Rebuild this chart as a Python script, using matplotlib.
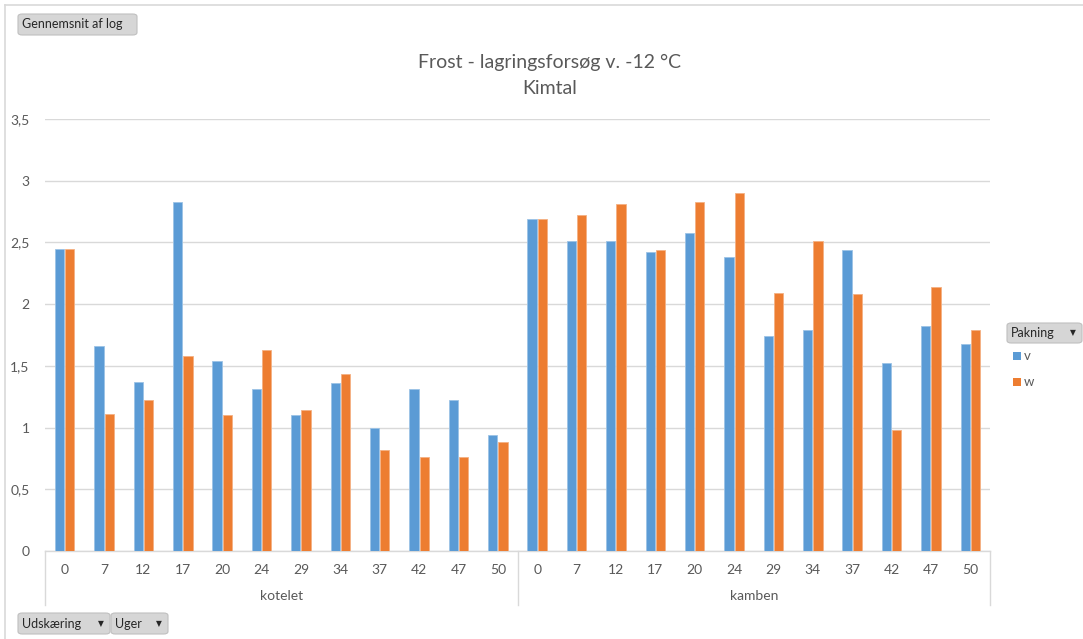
import matplotlib
matplotlib.use("Agg")
import matplotlib.pyplot as plt
from matplotlib.patches import FancyBboxPatch, Rectangle
from matplotlib.lines import Line2D
import matplotlib.transforms as mtransforms
import numpy as np

plt.rcParams['font.family'] = ['Lato', 'DejaVu Sans']

# ---- data ----
groups = ["kotelet", "kamben"]
weeks = ["0", "7", "12", "17", "20", "24", "29", "34", "37", "42", "47", "50"]
series_names = ["v", "w"]
kotelet_v = [2.45, 1.66, 1.37, 2.83, 1.54, 1.31, 1.10, 1.36, 1.00, 1.31, 1.22, 0.94]
kotelet_w = [2.45, 1.11, 1.22, 1.58, 1.10, 1.63, 1.14, 1.43, 0.82, 0.76, 0.76, 0.88]
kamben_v = [2.69, 2.51, 2.51, 2.42, 2.58, 2.38, 1.74, 1.79, 2.44, 1.52, 1.82, 1.68]
kamben_w = [2.69, 2.72, 2.81, 2.44, 2.83, 2.90, 2.09, 2.51, 2.08, 0.98, 2.14, 1.79]
yticks = [0, 0.5, 1, 1.5, 2, 2.5, 3, 3.5]
title_line1 = "Frost - lagringsforsøg v. -12 °C"
title_line2 = "Kimtal"
button_top = "Gennemsnit af log"
button_bottom = ["Udskæring", "Uger"]
legend_title = "Pakning"

colors = ["#5B9BD5", "#ED7D31"]
txt = "#595959"
grid = "#D9D9D9"

W, H = 1083, 639
fig = plt.figure(figsize=(W / 100, H / 100), dpi=100)

def fx(px):
    return px / W

def fy(py):
    return 1 - py / H

left, right, top, bottom = 45, 990, 119, 551
ax = fig.add_axes([fx(left), fy(bottom), (right - left) / W, (bottom - top) / H])

v_all = kotelet_v + kamben_v
w_all = kotelet_w + kamben_w
labels = weeks + weeks
x = np.arange(len(labels))
bw = 0.235
off = 0.13
ax.bar(x - off, v_all, width=bw, color=colors[0], edgecolor="#9CC3E6", linewidth=0.6, zorder=3)
ax.bar(x + off, w_all, width=bw, color=colors[1], edgecolor="#F4B183", linewidth=0.6, zorder=3)

ax.set_xlim(-0.5, len(labels) - 0.5)
ax.set_ylim(0, 3.5)
ax.set_yticks(yticks)
ax.set_yticklabels([("%g" % t).replace(".", ",") for t in yticks])
ax.yaxis.grid(True, color=grid, linewidth=1.0, zorder=0)
ax.set_axisbelow(True)
for s in ["top", "right", "left"]:
    ax.spines[s].set_visible(False)
ax.spines["bottom"].set_color(grid)
ax.spines["bottom"].set_linewidth(1.0)
ax.tick_params(axis="y", length=0, pad=11, labelsize=10, labelcolor=txt)
ax.set_xticks(x)
ax.set_xticklabels(labels)
ax.tick_params(axis="x", length=0, pad=9, labelsize=10, labelcolor=txt)

# multi-level category separators and group labels
trans = mtransforms.blended_transform_factory(ax.transData, ax.transAxes)
sep_depth = -(605 - 551) / (bottom - top)
for xs in [-0.5, 11.5, 23.5]:
    ax.add_line(Line2D([xs, xs], [0, sep_depth], transform=trans, color=grid,
                       linewidth=1.0, clip_on=False))
grp_y = -(596 - 551) / (bottom - top)
for i, g in enumerate(groups):
    ax.text(5.5 + 12 * i, grp_y, g, transform=trans, ha="center", va="center",
            fontsize=10, color=txt)

# chart border (light grey)
fig.add_artist(Line2D([fx(5), fx(1083)], [fy(5), fy(5)], color="#D9D9D9", linewidth=1.2))
fig.add_artist(Line2D([fx(5), fx(5)], [fy(5), fy(639)], color="#D9D9D9", linewidth=1.2))

# title
fig.text(fx(550), fy(62), title_line1, ha="center", va="center", fontsize=14, color=txt)
fig.text(fx(550), fy(88), title_line2, ha="center", va="center", fontsize=14, color=txt)

def button(x0, y0, x1, y1, label, arrow=False):
    p = FancyBboxPatch((fx(x0), fy(y1)), fx(x1) - fx(x0), fy(y0) - fy(y1),
                       boxstyle="round,pad=0,rounding_size=0.004",
                       transform=fig.transFigure, facecolor="#D6D6D6",
                       edgecolor="#BFBFBF", linewidth=0.8)
    fig.add_artist(p)
    fig.text(fx(x0 + 4), fy((y0 + y1) / 2), label, ha="left", va="center",
             fontsize=9, color="#262626")
    if arrow:
        fig.text(fx(x1 - 9), fy((y0 + y1) / 2), "▼", ha="center", va="center",
                 fontsize=5.5, color="#262626", family="DejaVu Sans")

button(18, 14, 137, 35, button_top)
button(18, 613, 110, 634, button_bottom[0], arrow=True)
button(111, 613, 168, 634, button_bottom[1], arrow=True)

# legend
button(1007, 323, 1082, 343, legend_title, arrow=True)
for i, (name, c) in enumerate(zip(series_names, colors)):
    yc = 356 + 25.5 * i
    fig.add_artist(Rectangle((fx(1013), fy(yc + 4)), fx(8), fy(0) - fy(8),
                             transform=fig.transFigure, facecolor=c, edgecolor="none"))
    fig.text(fx(1024), fy(yc), name, ha="left", va="center", fontsize=9.5, color=txt)

fig.savefig("out.png", dpi=100)
